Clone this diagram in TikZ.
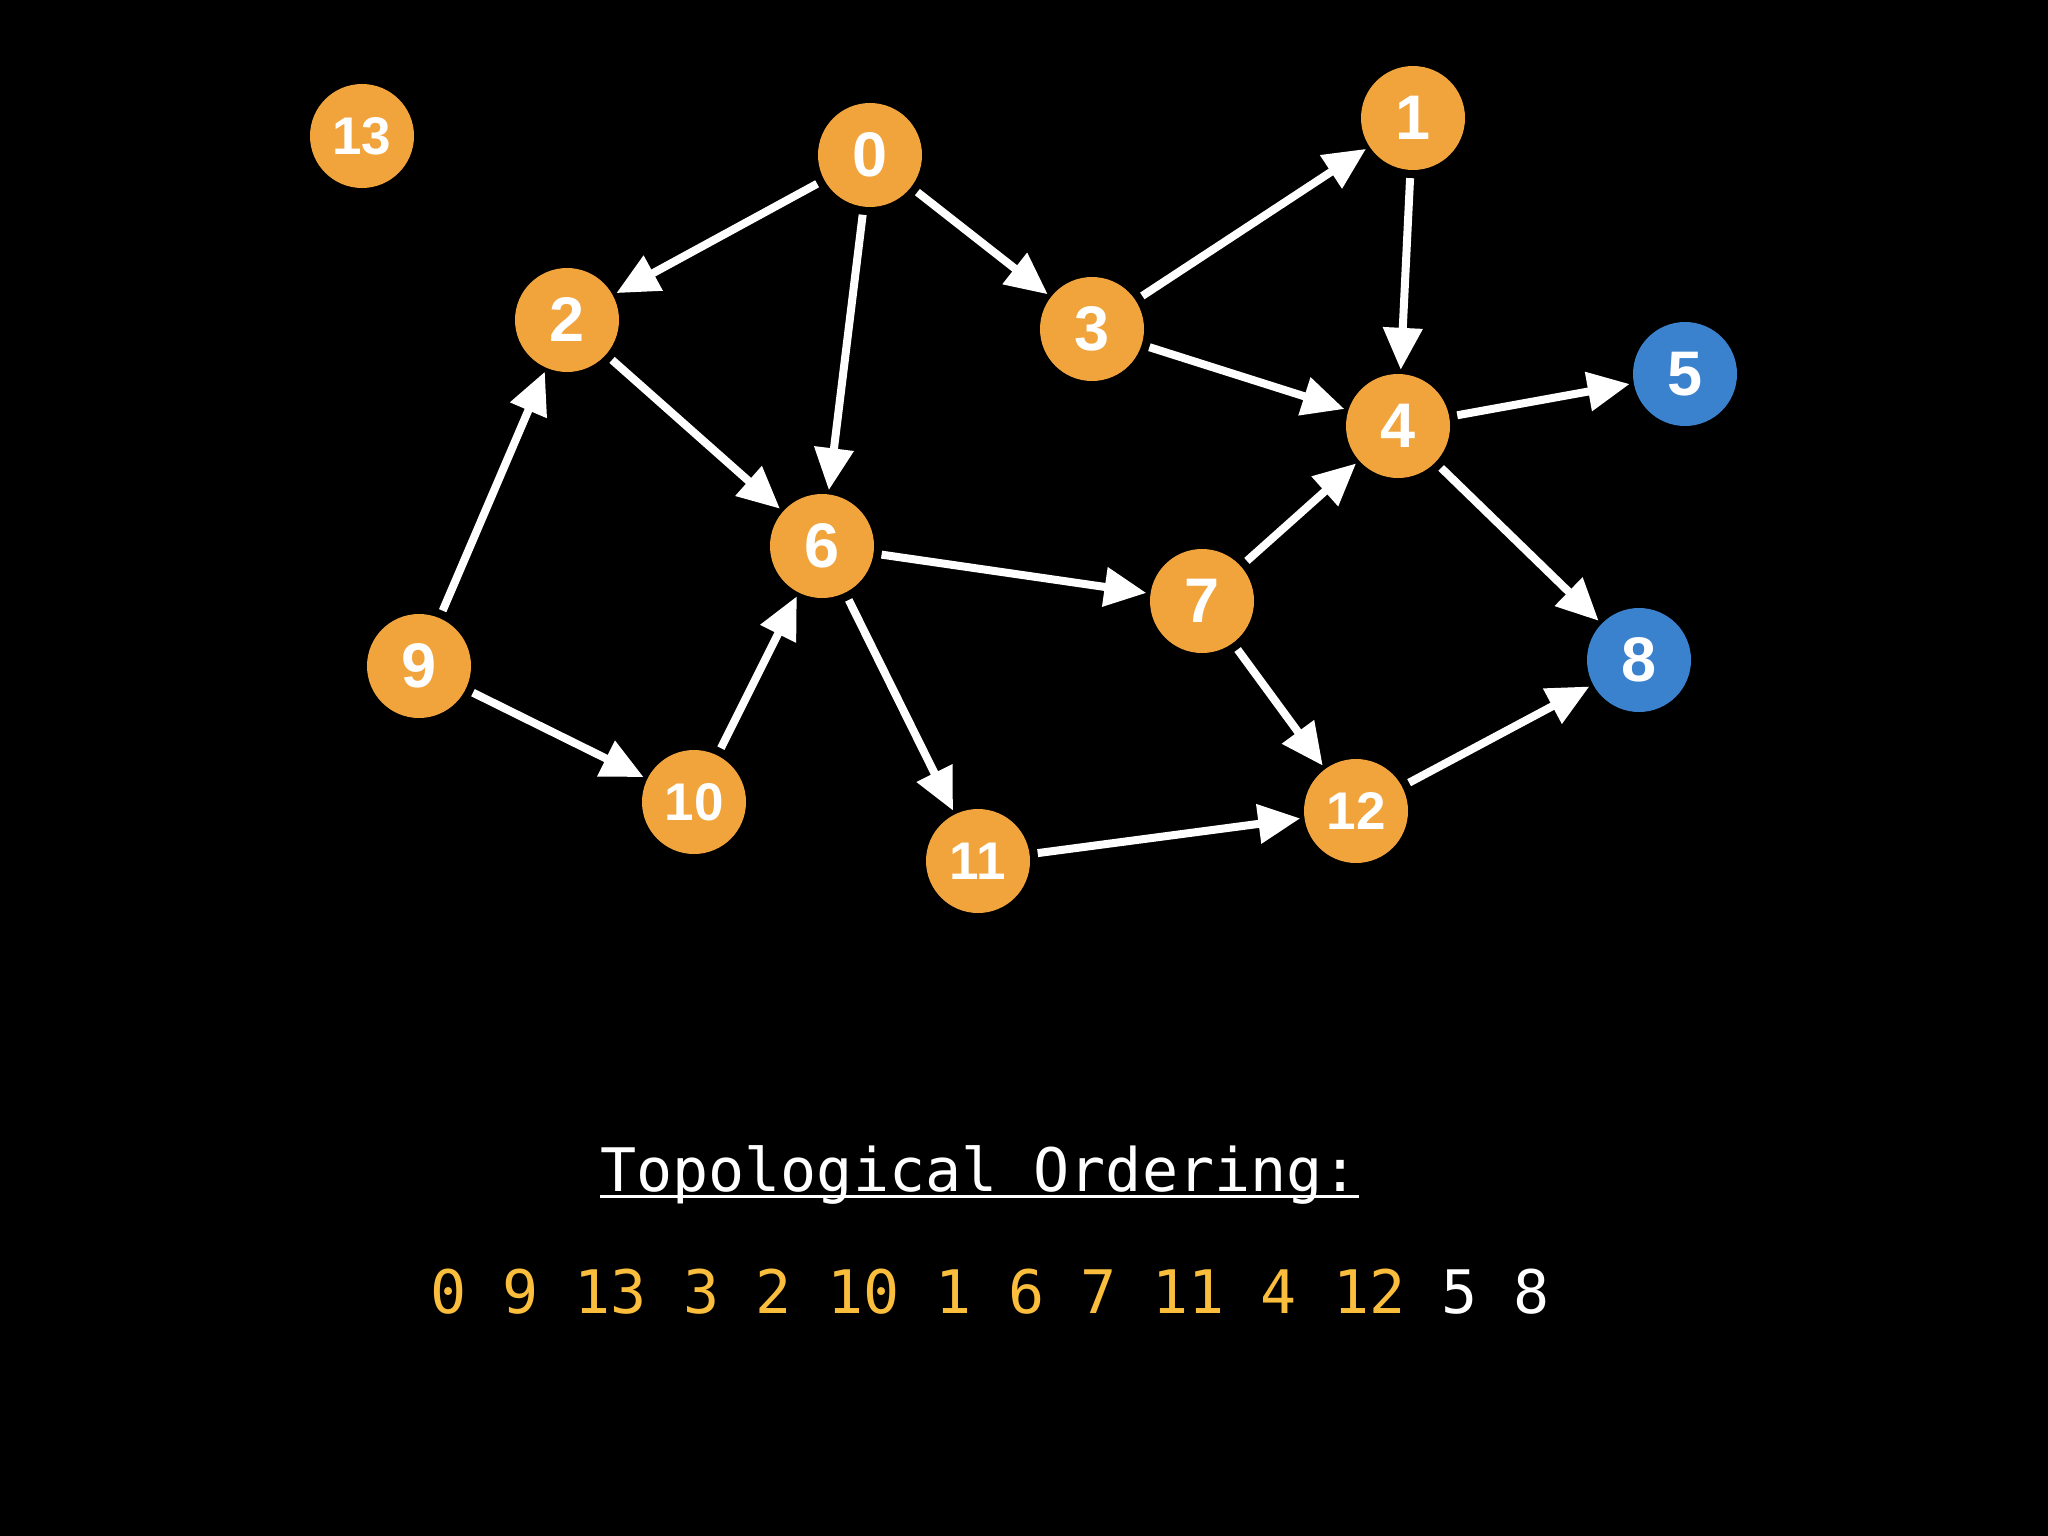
\documentclass[tikz,border=0pt]{standalone}
\usepackage{fontspec}
\setmainfont{Liberation Sans}
\newfontfamily\monofont{DejaVu Sans Mono}[WordSpace={1,0,0}]
\usetikzlibrary{arrows.meta}
\definecolor{nodeorange}{RGB}{241,164,60}
\definecolor{nodeblue}{RGB}{58,130,206}
\definecolor{ordyellow}{RGB}{250,190,60}
\tikzset{
  vtx/.style={circle, fill=nodeorange, minimum size=104pt, inner sep=0pt, text=white,
    font=\bfseries\fontsize{63}{63}\selectfont},
  vtxsmall/.style={vtx, font=\bfseries\fontsize{53}{53}\selectfont},
  sinknode/.style={fill=nodeblue},
  edgearrow/.style={draw=white, line width=8pt, -{Triangle[length=42pt,width=38pt]},
    shorten <=8pt, shorten >=4pt},
  monotext/.style={anchor=base west, inner sep=0pt, text=white,
    font=\monofont\fontsize{60}{60}\selectfont}
}
\begin{document}
\begin{tikzpicture}[x=1pt,y=-1pt]
\fill[black] (0,0) rectangle (2048,1536);
\useasboundingbox (0,0) rectangle (2048,1536);

\node[vtxsmall] (n13) at (362,136) {13};
\node[vtx] (n0) at (870,155) {0};
\node[vtx] (n1) at (1413,118) {1};
\node[vtx] (n2) at (567,320) {2};
\node[vtx] (n3) at (1092,329) {3};
\node[vtx] (n4) at (1398,426) {4};
\node[vtx,sinknode] (n5) at (1685,374) {5};
\node[vtx] (n6) at (822,546) {6};
\node[vtx] (n7) at (1202,601) {7};
\node[vtx,sinknode] (n8) at (1639,660) {8};
\node[vtx] (n9) at (419,666) {9};
\node[vtxsmall] (n10) at (694,802) {10};
\node[vtxsmall] (n11) at (978,861) {11};
\node[vtxsmall] (n12) at (1356,811) {12};

\draw[edgearrow] (n0) -- (n2);
\draw[edgearrow] (n0) -- (n6);
\draw[edgearrow] (n0) -- (n3);
\draw[edgearrow] (n3) -- (n1);
\draw[edgearrow] (n1) -- (n4);
\draw[edgearrow] (n3) -- (n4);
\draw[edgearrow] (n4) -- (n5);
\draw[edgearrow] (n4) -- (n8);
\draw[edgearrow] (n2) -- (n6);
\draw[edgearrow] (n9) -- (n2);
\draw[edgearrow] (n9) -- (n10);
\draw[edgearrow] (n10) -- (n6);
\draw[edgearrow] (n6) -- (n7);
\draw[edgearrow] (n6) -- (n11);
\draw[edgearrow] (n7) -- (n4);
\draw[edgearrow] (n7) -- (n12);
\draw[edgearrow] (n11) -- (n12);
\draw[edgearrow] (n12) -- (n8);

\node[monotext] (title) at (600,1191) {Topological Ordering:};
\draw[white, line width=3pt] ([yshift=-5pt]title.base west) -- ([yshift=-5pt]title.base east);
\node[monotext] (order) at (430,1313) {\textcolor{ordyellow}{0 9 13 3 2 10 1 6 7 11 4 12} 5 8};
\end{tikzpicture}
\end{document}
